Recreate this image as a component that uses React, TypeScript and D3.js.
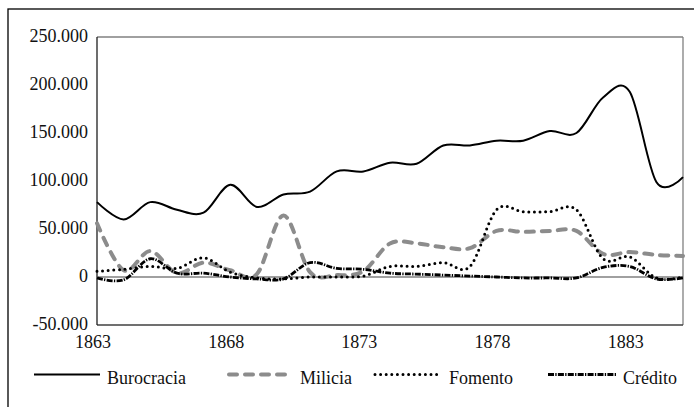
import React from "react"
import * as d3 from "d3"

const years = d3.range(1863, 1886)

const burocracia = [78, 60, 78, 70, 67, 96, 73, 86, 89, 110, 110, 119, 118, 137, 137, 142, 142, 152, 150, 187, 193, 99, 104]
const milicia = [56, 7, 27, 4, 15, 7, 3, 64, 5, 2, 6, 35, 35, 31, 30, 48, 47, 48, 48, 24, 26, 23, 22]
const fomento = [6, 8, 11, 9, 20, 5, -1, -2, 0, 0, 1, 11, 11, 15, 11, 70, 68, 68, 70, 19, 21, -1, 0]
const credito = [-1, -3, 19, 4, 4, 0, -2, -2, 15, 9, 8, 4, 3, 2, 1, 0, -1, -1, -1, 10, 11, -2, -1]

const yTicks = [-50000, 0, 50000, 100000, 150000, 200000, 250000]
const xLabels = [1863, 1868, 1873, 1878, 1883]

const seriesList = [
  { name: "Burocracia", values: burocracia, color: "#000", width: 2, dash: "", cap: "butt" },
  { name: "Milicia", values: milicia, color: "#8c8c8c", width: 4, dash: "8,8", cap: "round" },
  { name: "Fomento", values: fomento, color: "#000", width: 3, dash: "0,5.6", cap: "round" },
  { name: "Crédito", values: credito, color: "#000", width: 2.8, dash: "6,1.3,1.3,1.3", cap: "butt" },
]

// posiciones de la leyenda (inicio de línea, inicio de texto)
const legendPos = [
  { x0: 34, x1: 100, tx: 107 },
  { x0: 229, x1: 293, tx: 300 },
  { x0: 375, x1: 440, tx: 449 },
  { x0: 548, x1: 616, tx: 623 },
]

const fmt = d3.formatLocale({ decimal: ",", thousands: ".", grouping: [3], currency: ["", ""], minus: "-" }).format(",")

const FONT = "Liberation Serif, DejaVu Serif, Noto Serif, Times New Roman, Times, serif"

export default function App() {
  const left = 97
  const right = 683
  const top = 37
  const bottom = 325

  const x = d3.scaleLinear().domain([1863, 1885]).range([left, right])
  const y = d3.scaleLinear().domain([-50000, 250000]).range([bottom, top])

  const line = d3
    .line<number>()
    .x((_d: number, i: number) => x(years[i]))
    .y((d: number) => y(d * 1000))
    .curve(d3.curveCatmullRom.alpha(0))

  return (
    <div style={{ position: "absolute", left: 0, top: 0, width: 694, height: 407, fontFamily: FONT }}>
      <svg width={694} height={407} style={{ display: "block" }}>
        <rect x={0} y={0} width={694} height={407} fill="#fff" />
        <rect x={8} y={9} width={720} height={440} fill="none" stroke="#000" strokeWidth={1.3} />

        {/* marco del área de trazado */}
        <line x1={left} x2={right} y1={top} y2={top} stroke="#808080" strokeWidth={1.3} />
        <line x1={right} x2={right} y1={top} y2={bottom} stroke="#808080" strokeWidth={1.3} />
        <line x1={left} x2={right} y1={bottom} y2={bottom} stroke="#404040" strokeWidth={1.3} />
        <line x1={left} x2={left} y1={top} y2={bottom} stroke="#202020" strokeWidth={1.3} />
        <line x1={left} x2={right} y1={y(0)} y2={y(0)} stroke="#808080" strokeWidth={1.3} />

        {yTicks.map((t) => (
          <text key={t} x={88} y={y(t) + 4.5} textAnchor="end" fontFamily={FONT} fontSize={18} fill="#111">
            {fmt(t)}
          </text>
        ))}
        {xLabels.map((t) => (
          <text key={t} x={x(t) - 4} y={348} textAnchor="middle" fontFamily={FONT} fontSize={18} fill="#111">
            {t}
          </text>
        ))}

        {seriesList.map((s) => (
          <path
            key={s.name}
            d={line(s.values) || ""}
            fill="none"
            stroke={s.color}
            strokeWidth={s.width}
            strokeDasharray={s.dash || undefined}
            strokeLinecap={s.cap as any}
            strokeLinejoin="round"
          />
        ))}

        {seriesList.map((s, i) => (
          <g key={s.name}>
            <line
              x1={legendPos[i].x0}
              x2={legendPos[i].x1}
              y1={374.5}
              y2={374.5}
              stroke={s.color}
              strokeWidth={s.width}
              strokeDasharray={s.dash || undefined}
              strokeLinecap={s.cap as any}
            />
            <text x={legendPos[i].tx} y={384} fontFamily={FONT} fontSize={18} fill="#111">
              {s.name}
            </text>
          </g>
        ))}
      </svg>
    </div>
  )
}
